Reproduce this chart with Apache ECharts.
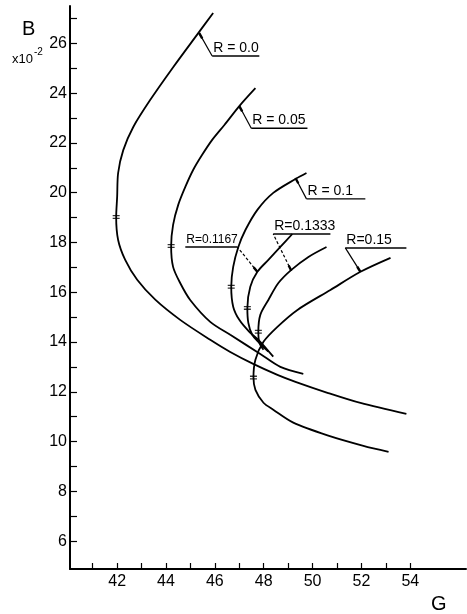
<!DOCTYPE html>
<html>
<head>
<meta charset="utf-8">
<script src="https://cdn.jsdelivr.net/npm/echarts@6/dist/echarts.min.js"></script>
<style>
  html, body { margin: 0; padding: 0; background: #fff; }
  #chart { width: 467px; height: 614px; }
</style>
</head>
<body>
<div id="chart"></div>
<script>
// Operating curves in the G–B plane (B scaled by 10^-2), one curve per R value.
const curveNames = ['R=0.0', 'R=0.05', 'R=0.1', 'R=0.1167', 'R=0.1333', 'R=0.15'];

const g_r000 = [45.93, 45.32, 44.30, 43.35, 42.66, 42.25, 42.04, 42.00, 41.96, 42.04, 42.33, 42.82, 43.56, 44.58, 45.81, 46.63, 47.57, 48.56, 49.30, 50.61, 51.96, 53.84];
const b_r000 = [27.22, 26.41, 25.05, 23.72, 22.64, 21.71, 20.79, 19.83, 19.02, 18.10, 17.30, 16.50, 15.70, 14.89, 14.09, 13.60, 13.12, 12.68, 12.40, 11.96, 11.55, 11.11];

const g_r005 = [47.66, 47.00, 46.39, 45.89, 45.48, 45.11, 44.79, 44.50, 44.29, 44.21, 44.29, 44.58, 44.99, 45.81, 46.63, 47.86, 48.68, 49.62];
const b_r005 = [24.20, 23.48, 22.72, 22.12, 21.52, 20.91, 20.23, 19.51, 18.71, 17.86, 17.02, 16.37, 15.69, 14.81, 14.29, 13.52, 13.00, 12.72];

const g_r010 = [49.75, 49.30, 48.39, 47.74, 47.25, 46.96, 46.75, 46.67, 46.75, 47.00, 47.41, 47.86, 48.39];
const b_r010 = [20.79, 20.55, 19.99, 19.31, 18.50, 17.82, 17.02, 16.22, 15.42, 14.89, 14.41, 14.01, 13.41];

const g_r1167 = [49.17, 48.68, 48.19, 47.74, 47.45, 47.33, 47.37, 47.53, 47.78, 48.19];
const b_r1167 = [18.34, 17.82, 17.30, 16.82, 16.22, 15.37, 14.77, 14.29, 14.01, 13.61];

const g_r1333 = [50.57, 49.83, 49.13, 48.60, 48.19, 47.86, 47.78, 47.82, 47.99];
const b_r1333 = [17.82, 17.42, 16.90, 16.37, 15.69, 15.09, 14.41, 13.97, 13.69];

const g_r015 = [53.19, 51.96, 50.73, 49.38, 48.56, 47.99, 47.66, 47.58, 47.66, 47.99, 48.39, 49.21, 50.61, 52.08, 53.11];
const b_r015 = [17.38, 16.82, 16.09, 15.29, 14.61, 14.01, 13.29, 12.57, 12.08, 11.56, 11.28, 10.76, 10.25, 9.83, 9.59];

// Minimum-G point marked on each curve
const vertexG = [41.96, 44.21, 46.67, 47.33, 47.78, 47.58];
const vertexB = [19.02, 17.86, 16.22, 15.37, 14.41, 12.57];

// Tick values and labels
const xTickValues = [41, 42, 43, 44, 45, 46, 47, 48, 49, 50, 51, 52, 53, 54];
const xLabelValues = [42, 44, 46, 48, 50, 52, 54];
const yTickValues = [6, 7, 8, 9, 10, 11, 12, 13, 14, 15, 16, 17, 18, 19, 20, 21, 22, 23, 24, 25, 26, 27];
const yLabelValues = [6, 8, 10, 12, 14, 16, 18, 20, 22, 24, 26];

// Curve labels: text, leader tip on the curve, bend, and underline end (data units)
const labelText = ['R = 0.0', 'R = 0.05', 'R = 0.1', 'R=0.1167', 'R=0.1333', 'R=0.15'];
const labelTip  = [[45.36, 26.41], [47.00, 23.48], [49.30, 20.59], [47.74, 16.82], [49.13, 16.86], [51.96, 16.82]];
const labelBend = [[45.89, 25.49], [47.49, 22.59], [49.75, 19.75], [46.92, 17.82], [48.39, 18.34], [51.34, 17.78]];
const labelEnd  = [[47.82, 25.49], [49.79, 22.59], [52.16, 19.75], [44.79, 17.82], [50.73, 18.34], [53.84, 17.78]];
const labelDashed = [false, false, false, true, true, false];
const labelSize = [14, 14, 14, 12, 14, 14];

const curveG = [g_r000, g_r005, g_r010, g_r1167, g_r1333, g_r015];
const curveB = [b_r000, b_r005, b_r010, b_r1167, b_r1333, b_r015];

const FONT = "'Liberation Sans', Arial, sans-serif";
const AXIS_FONT = "'Liberation Sans Narrow', 'Liberation Sans', Arial, sans-serif";

const zip = (xs, ys) => xs.map((x, i) => [x, ys[i]]);

const series = curveNames.map((name, k) => ({
  name: name,
  type: 'line',
  data: zip(curveG[k], curveB[k]),
  smooth: 0.3,
  showSymbol: false,
  silent: true,
  lineStyle: { color: '#000', width: 1.8 },
  z: 3
}));

series.push({
  name: 'vertex',
  type: 'scatter',
  data: zip(vertexG, vertexB),
  symbol: 'path://M0,0H7V1.3H0Z M0,2.7H7V4H0Z',
  symbolSize: [7, 4],
  itemStyle: { color: '#000' },
  silent: true,
  z: 4
});

series.push({
  name: 'labels',
  type: 'custom',
  silent: true,
  clip: false,
  data: labelText.map((t, i) => [labelTip[i][0], labelTip[i][1], labelBend[i][0], labelBend[i][1], labelEnd[i][0], labelEnd[i][1]]),
  renderItem: function (params, api) {
    const i = params.dataIndex;
    const tip = api.coord([api.value(0), api.value(1)]);
    const bend = api.coord([api.value(2), api.value(3)]);
    const end = api.coord([api.value(4), api.value(5)]);
    const left = Math.min(bend[0], end[0]);
    // short heavy stroke where the leader meets the curve
    const dx = bend[0] - tip[0], dy = bend[1] - tip[1];
    const len = Math.sqrt(dx * dx + dy * dy) || 1;
    const head = [tip[0] + dx / len * 6, tip[1] + dy / len * 6];
    return {
      type: 'group',
      children: [
        {
          type: 'line',
          shape: { x1: tip[0], y1: tip[1], x2: bend[0], y2: bend[1] },
          style: { stroke: '#000', lineWidth: 1.2, lineDash: labelDashed[i] ? [3, 2] : null }
        },
        {
          type: 'line',
          shape: { x1: tip[0], y1: tip[1], x2: head[0], y2: head[1] },
          style: { stroke: '#000', lineWidth: 2.4 }
        },
        {
          type: 'line',
          shape: { x1: bend[0], y1: bend[1], x2: end[0], y2: end[1] },
          style: { stroke: '#000', lineWidth: 1.4 }
        },
        {
          type: 'text',
          style: {
            text: labelText[i],
            x: left + 1,
            y: bend[1] - 1,
            font: labelSize[i] + 'px ' + FONT,
            fill: '#000',
            align: 'left',
            verticalAlign: 'bottom',
            textAlign: 'left',
            textVerticalAlign: 'bottom'
          }
        }
      ]
    };
  },
  z: 5
});

const chart = echarts.init(document.getElementById('chart'), null, { renderer: 'canvas' });

chart.setOption({
  animation: false,
  backgroundColor: '#fff',
  grid: { left: 70, right: 1, top: 6, bottom: 45, containLabel: false },
  xAxis: {
    type: 'value',
    min: 40.07,
    max: 56.28,
    splitLine: { show: false },
    axisLine: { show: true, onZero: false, lineStyle: { color: '#000', width: 2 } },
    axisTick: { show: true, inside: true, length: 6, lineStyle: { color: '#000', width: 1.2 }, customValues: xTickValues },
    axisLabel: { color: '#000', fontSize: 16, fontFamily: AXIS_FONT, margin: 5, customValues: xLabelValues }
  },
  yAxis: {
    type: 'value',
    min: 4.88,
    max: 27.5,
    splitLine: { show: false },
    axisLine: { show: true, onZero: false, lineStyle: { color: '#000', width: 2 } },
    axisTick: { show: true, inside: true, length: 7, lineStyle: { color: '#000', width: 1.2 }, customValues: yTickValues },
    axisLabel: { color: '#000', fontSize: 16, fontFamily: AXIS_FONT, margin: 3, customValues: yLabelValues }
  },
  graphic: [
    { type: 'text', left: 22, top: 19, style: { text: 'B', font: '20px ' + FONT, fill: '#000' } },
    { type: 'text', left: 12, top: 53, style: { text: 'x10', font: '13px ' + FONT, fill: '#000' } },
    { type: 'text', left: 34, top: 47, style: { text: '-2', font: '10px ' + FONT, fill: '#000' } },
    { type: 'text', left: 431, top: 594, style: { text: 'G', font: '20px ' + FONT, fill: '#000' } }
  ],
  series: series
});
</script>
</body>
</html>
